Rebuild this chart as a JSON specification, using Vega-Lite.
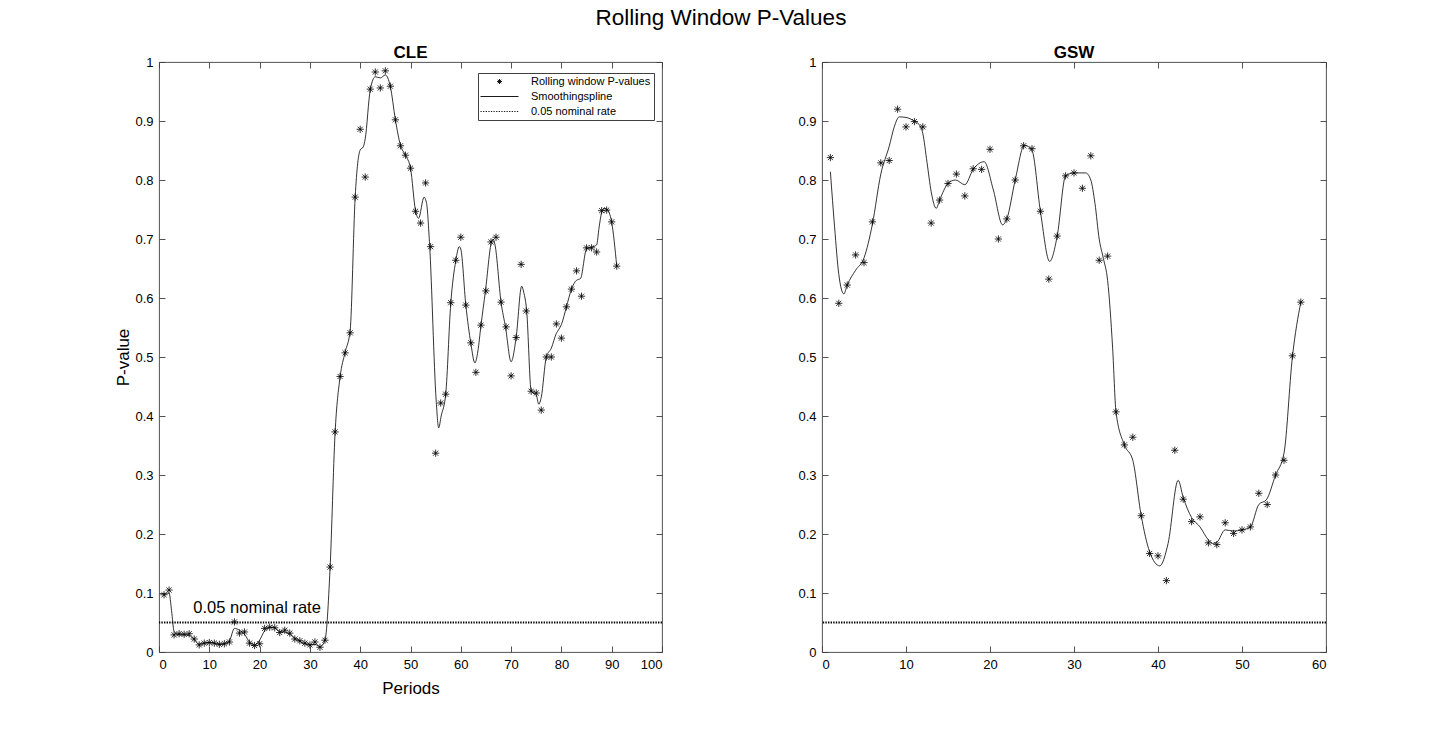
{
  "$schema": "https://vega.github.io/schema/vega-lite/v6.json",
  "padding": {"left": 114, "top": 7, "right": 5, "bottom": 5},
  "title": {"text": "Rolling Window P-Values", "fontSize": 22.5, "fontWeight": "normal", "font": "Liberation Sans", "color": "black", "anchor": "middle", "offset": 14},
  "spacing": 133,
  "config": {
    "font": "Liberation Sans",
    "view": {"stroke": "#404040", "strokeWidth": 0.9},
    "axis": {"grid": false, "domain": false, "ticks": true, "tickSize": -6, "tickColor": "#404040", "tickWidth": 0.9, "labelFontSize": 13, "labelColor": "black", "titleFontSize": 17, "titleFontWeight": "normal", "titleColor": "black", "labelPadding": 12, "minExtent": 0},
    "title": {"fontSize": 17, "fontWeight": "bold", "color": "black", "offset": -6}
  },
  "datasets": {
    "cle_pts": [
      {"x":1,"y":0.097,"series":"Rolling window P-values"},{"x":2,"y":0.105,"series":"Rolling window P-values"},{"x":3,"y":0.029,"series":"Rolling window P-values"},{"x":4,"y":0.031,"series":"Rolling window P-values"},{"x":5,"y":0.030,"series":"Rolling window P-values"},{"x":6,"y":0.031,"series":"Rolling window P-values"},{"x":7,"y":0.022,"series":"Rolling window P-values"},{"x":8,"y":0.012,"series":"Rolling window P-values"},{"x":9,"y":0.015,"series":"Rolling window P-values"},{"x":10,"y":0.016,"series":"Rolling window P-values"},
      {"x":11,"y":0.015,"series":"Rolling window P-values"},{"x":12,"y":0.013,"series":"Rolling window P-values"},{"x":13,"y":0.014,"series":"Rolling window P-values"},{"x":14,"y":0.017,"series":"Rolling window P-values"},{"x":15,"y":0.051,"series":"Rolling window P-values"},{"x":16,"y":0.032,"series":"Rolling window P-values"},{"x":17,"y":0.034,"series":"Rolling window P-values"},{"x":18,"y":0.015,"series":"Rolling window P-values"},{"x":19,"y":0.011,"series":"Rolling window P-values"},{"x":20,"y":0.014,"series":"Rolling window P-values"},
      {"x":21,"y":0.040,"series":"Rolling window P-values"},{"x":22,"y":0.042,"series":"Rolling window P-values"},{"x":23,"y":0.041,"series":"Rolling window P-values"},{"x":24,"y":0.033,"series":"Rolling window P-values"},{"x":25,"y":0.037,"series":"Rolling window P-values"},{"x":26,"y":0.032,"series":"Rolling window P-values"},{"x":27,"y":0.022,"series":"Rolling window P-values"},{"x":28,"y":0.019,"series":"Rolling window P-values"},{"x":29,"y":0.015,"series":"Rolling window P-values"},{"x":30,"y":0.012,"series":"Rolling window P-values"},
      {"x":31,"y":0.017,"series":"Rolling window P-values"},{"x":32,"y":0.008,"series":"Rolling window P-values"},{"x":33,"y":0.020,"series":"Rolling window P-values"},{"x":34,"y":0.144,"series":"Rolling window P-values"},{"x":35,"y":0.373,"series":"Rolling window P-values"},{"x":36,"y":0.467,"series":"Rolling window P-values"},{"x":37,"y":0.507,"series":"Rolling window P-values"},{"x":38,"y":0.541,"series":"Rolling window P-values"},{"x":39,"y":0.771,"series":"Rolling window P-values"},{"x":40,"y":0.886,"series":"Rolling window P-values"},
      {"x":41,"y":0.805,"series":"Rolling window P-values"},{"x":42,"y":0.954,"series":"Rolling window P-values"},{"x":43,"y":0.983,"series":"Rolling window P-values"},{"x":44,"y":0.956,"series":"Rolling window P-values"},{"x":45,"y":0.985,"series":"Rolling window P-values"},{"x":46,"y":0.959,"series":"Rolling window P-values"},{"x":47,"y":0.902,"series":"Rolling window P-values"},{"x":48,"y":0.858,"series":"Rolling window P-values"},{"x":49,"y":0.842,"series":"Rolling window P-values"},{"x":50,"y":0.820,"series":"Rolling window P-values"},
      {"x":51,"y":0.747,"series":"Rolling window P-values"},{"x":52,"y":0.727,"series":"Rolling window P-values"},{"x":53,"y":0.795,"series":"Rolling window P-values"},{"x":54,"y":0.687,"series":"Rolling window P-values"},{"x":55,"y":0.337,"series":"Rolling window P-values"},{"x":56,"y":0.422,"series":"Rolling window P-values"},{"x":57,"y":0.437,"series":"Rolling window P-values"},{"x":58,"y":0.592,"series":"Rolling window P-values"},{"x":59,"y":0.664,"series":"Rolling window P-values"},{"x":60,"y":0.703,"series":"Rolling window P-values"},
      {"x":61,"y":0.588,"series":"Rolling window P-values"},{"x":62,"y":0.524,"series":"Rolling window P-values"},{"x":63,"y":0.474,"series":"Rolling window P-values"},{"x":64,"y":0.554,"series":"Rolling window P-values"},{"x":65,"y":0.612,"series":"Rolling window P-values"},{"x":66,"y":0.695,"series":"Rolling window P-values"},{"x":67,"y":0.703,"series":"Rolling window P-values"},{"x":68,"y":0.593,"series":"Rolling window P-values"},{"x":69,"y":0.551,"series":"Rolling window P-values"},{"x":70,"y":0.468,"series":"Rolling window P-values"},
      {"x":71,"y":0.533,"series":"Rolling window P-values"},{"x":72,"y":0.657,"series":"Rolling window P-values"},{"x":73,"y":0.578,"series":"Rolling window P-values"},{"x":74,"y":0.442,"series":"Rolling window P-values"},{"x":75,"y":0.439,"series":"Rolling window P-values"},{"x":76,"y":0.410,"series":"Rolling window P-values"},{"x":77,"y":0.500,"series":"Rolling window P-values"},{"x":78,"y":0.500,"series":"Rolling window P-values"},{"x":79,"y":0.556,"series":"Rolling window P-values"},{"x":80,"y":0.532,"series":"Rolling window P-values"},
      {"x":81,"y":0.585,"series":"Rolling window P-values"},{"x":82,"y":0.615,"series":"Rolling window P-values"},{"x":83,"y":0.646,"series":"Rolling window P-values"},{"x":84,"y":0.603,"series":"Rolling window P-values"},{"x":85,"y":0.685,"series":"Rolling window P-values"},{"x":86,"y":0.685,"series":"Rolling window P-values"},{"x":87,"y":0.678,"series":"Rolling window P-values"},{"x":88,"y":0.748,"series":"Rolling window P-values"},{"x":89,"y":0.749,"series":"Rolling window P-values"},{"x":90,"y":0.729,"series":"Rolling window P-values"},
      {"x":91,"y":0.654,"series":"Rolling window P-values"}
    ],
    "cle_spline": [
      {"x":1,"y":0.097},{"x":2,"y":0.100},{"x":2.5,"y":0.07},{"x":3,"y":0.035},{"x":4,"y":0.029},{"x":5,"y":0.029},{"x":6,"y":0.028},{"x":7,"y":0.021},{"x":8,"y":0.013},{"x":9,"y":0.015},{"x":10,"y":0.016},
      {"x":11,"y":0.015},{"x":12,"y":0.013},{"x":13,"y":0.014},{"x":14,"y":0.019},{"x":15,"y":0.040},{"x":16,"y":0.037},{"x":17,"y":0.030},{"x":18,"y":0.017},{"x":19,"y":0.012},{"x":20,"y":0.020},
      {"x":21,"y":0.036},{"x":22,"y":0.042},{"x":23,"y":0.041},{"x":24,"y":0.035},{"x":25,"y":0.034},{"x":26,"y":0.030},{"x":27,"y":0.024},{"x":28,"y":0.018},{"x":29,"y":0.014},{"x":30,"y":0.012},
      {"x":31,"y":0.013},{"x":32,"y":0.009},{"x":33,"y":0.020},{"x":34,"y":0.140},{"x":35,"y":0.370},{"x":36,"y":0.466},{"x":37,"y":0.508},{"x":38,"y":0.545},{"x":39,"y":0.771},{"x":40,"y":0.851},
      {"x":40.6,"y":0.856},{"x":41,"y":0.870},{"x":42,"y":0.953},{"x":43,"y":0.975},{"x":44,"y":0.973},{"x":45,"y":0.978},{"x":46,"y":0.958},{"x":47,"y":0.902},{"x":48,"y":0.859},{"x":49,"y":0.842},{"x":50,"y":0.820},
      {"x":51,"y":0.748},{"x":51.6,"y":0.735},{"x":52.7,"y":0.771},{"x":53.2,"y":0.760},{"x":53.8,"y":0.690},{"x":55.1,"y":0.427},{"x":55.6,"y":0.380},{"x":56.1,"y":0.400},{"x":57,"y":0.437},{"x":58,"y":0.590},
      {"x":59,"y":0.663},{"x":59.7,"y":0.687},{"x":60,"y":0.683},{"x":61,"y":0.588},{"x":62,"y":0.523},{"x":62.8,"y":0.490},{"x":63.4,"y":0.510},{"x":64,"y":0.553},{"x":64.9,"y":0.612},{"x":66.1,"y":0.695},
      {"x":66.4,"y":0.700},{"x":66.8,"y":0.690},{"x":68,"y":0.593},{"x":68.9,"y":0.550},{"x":70,"y":0.492},{"x":71,"y":0.533},{"x":72.1,"y":0.620},{"x":72.5,"y":0.610},{"x":73.1,"y":0.578},{"x":74,"y":0.442},
      {"x":75,"y":0.436},{"x":75.5,"y":0.420},{"x":76,"y":0.432},{"x":77,"y":0.500},{"x":78,"y":0.515},{"x":79,"y":0.540},{"x":79.5,"y":0.547},{"x":80,"y":0.555},{"x":81,"y":0.585},{"x":82,"y":0.615},
      {"x":83,"y":0.630},{"x":83.8,"y":0.633},{"x":85,"y":0.683},{"x":86,"y":0.686},{"x":87,"y":0.690},{"x":87.5,"y":0.720},{"x":88,"y":0.745},{"x":88.5,"y":0.752},{"x":89,"y":0.751},{"x":90,"y":0.728},{"x":91,"y":0.654}
    ],
    "gsw_pts": [
      {"x":1,"y":0.838},{"x":2,"y":0.591},{"x":3,"y":0.622},{"x":4,"y":0.673},{"x":5,"y":0.660},{"x":6,"y":0.729},{"x":7,"y":0.829},{"x":8,"y":0.833},{"x":9,"y":0.920},{"x":10,"y":0.890},
      {"x":11,"y":0.899},{"x":12,"y":0.890},{"x":13,"y":0.727},{"x":14,"y":0.766},{"x":15,"y":0.794},{"x":16,"y":0.810},{"x":17,"y":0.773},{"x":18,"y":0.819},{"x":19,"y":0.818},{"x":20,"y":0.852},
      {"x":21,"y":0.700},{"x":22,"y":0.734},{"x":23,"y":0.800},{"x":24,"y":0.858},{"x":25,"y":0.853},{"x":26,"y":0.747},{"x":27,"y":0.632},{"x":28,"y":0.705},{"x":29,"y":0.807},{"x":30,"y":0.812},
      {"x":31,"y":0.786},{"x":32,"y":0.841},{"x":33,"y":0.664},{"x":34,"y":0.671},{"x":35,"y":0.407},{"x":36,"y":0.351},{"x":37,"y":0.364},{"x":38,"y":0.231},{"x":39,"y":0.167},{"x":40,"y":0.163},
      {"x":41,"y":0.121},{"x":42,"y":0.342},{"x":43,"y":0.259},{"x":44,"y":0.221},{"x":45,"y":0.229},{"x":46,"y":0.185},{"x":47,"y":0.182},{"x":48,"y":0.219},{"x":49,"y":0.201},{"x":50,"y":0.207},
      {"x":51,"y":0.212},{"x":52,"y":0.269},{"x":53,"y":0.250},{"x":54,"y":0.300},{"x":55,"y":0.325},{"x":56,"y":0.502},{"x":57,"y":0.593}
    ],
    "gsw_spline": [
      {"x":1,"y":0.814},{"x":1.5,"y":0.72},{"x":2,"y":0.64},{"x":2.6,"y":0.607},{"x":3,"y":0.622},{"x":4,"y":0.647},{"x":5,"y":0.668},{"x":6,"y":0.725},{"x":7,"y":0.810},{"x":8,"y":0.857},
      {"x":8.6,"y":0.890},{"x":9.2,"y":0.907},{"x":10,"y":0.906},{"x":11,"y":0.900},{"x":11.5,"y":0.895},{"x":12,"y":0.879},{"x":12.5,"y":0.830},{"x":13,"y":0.780},{"x":13.6,"y":0.752},{"x":14,"y":0.766},
      {"x":15,"y":0.794},{"x":15.9,"y":0.800},{"x":17,"y":0.792},{"x":18,"y":0.818},{"x":19.3,"y":0.831},{"x":20.4,"y":0.783},{"x":21.5,"y":0.724},{"x":22,"y":0.734},{"x":23,"y":0.800},{"x":24.1,"y":0.859},
      {"x":25,"y":0.850},{"x":26,"y":0.747},{"x":27.1,"y":0.662},{"x":28,"y":0.705},{"x":29,"y":0.807},{"x":30,"y":0.812},{"x":31.4,"y":0.812},{"x":32,"y":0.800},{"x":32.5,"y":0.760},{"x":33,"y":0.700},
      {"x":33.5,"y":0.667},{"x":34,"y":0.630},{"x":34.6,"y":0.515},{"x":35,"y":0.407},{"x":36,"y":0.351},{"x":37,"y":0.325},{"x":38,"y":0.231},{"x":39,"y":0.170},{"x":40.2,"y":0.146},{"x":41.2,"y":0.184},
      {"x":42.4,"y":0.291},{"x":43,"y":0.262},{"x":44,"y":0.228},{"x":45,"y":0.212},{"x":46,"y":0.190},{"x":46.5,"y":0.184},{"x":47,"y":0.186},{"x":48,"y":0.207},{"x":49,"y":0.205},{"x":50,"y":0.207},
      {"x":51,"y":0.212},{"x":52,"y":0.250},{"x":52.9,"y":0.258},{"x":54,"y":0.300},{"x":55,"y":0.337},{"x":56,"y":0.500},{"x":57,"y":0.593}
    ]
  },
  "hconcat": [
    {
      "width": 503,
      "height": 590,
      "title": {"text": "CLE"},
      "layer": [
        {
          "data": {"name": "cle_spline"},
          "mark": {"type": "line", "interpolate": "monotone", "color": "black", "strokeWidth": 0.8},
          "encoding": {
            "x": {"field": "x", "type": "quantitative", "scale": {"domain": [0, 100], "nice": false, "zero": false},
                  "axis": {"orient": "bottom", "values": [0,10,20,30,40,50,60,70,80,90,100], "format": "~r", "title": "Periods", "titlePadding": 9}},
            "y": {"field": "y", "type": "quantitative", "scale": {"domain": [0, 1], "nice": false},
                  "axis": {"orient": "left", "values": [0,0.1,0.2,0.3,0.4,0.5,0.6,0.7,0.8,0.9,1], "format": "~r", "title": "P-value", "titlePadding": 2}}
          }
        },
        {
          "data": {"name": "cle_pts"},
          "mark": {"type": "point", "filled": false, "color": "black", "strokeWidth": 0.8, "size": 210, "opacity": 1},
          "encoding": {
            "x": {"field": "x", "type": "quantitative", "axis": {"orient": "top", "values": [0,10,20,30,40,50,60,70,80,90,100], "labels": false, "title": null, "labelPadding": 0}},
            "y": {"field": "y", "type": "quantitative", "axis": {"orient": "right", "values": [0,0.1,0.2,0.3,0.4,0.5,0.6,0.7,0.8,0.9,1], "labels": false, "title": null, "labelPadding": 0}},
            "shape": {
              "field": "series", "type": "nominal",
              "scale": {
                "domain": ["Rolling window P-values", "Smoothingspline", "0.05 nominal rate"],
                "range": [
                  "M0,-0.5V0.5M-0.5,0H0.5M-0.354,-0.354L0.354,0.354M-0.354,0.354L0.354,-0.354",
                  "M-3.8,0H3.8",
                  "M-3.8,0H-3.54M-3.28,0H-3.02M-2.76,0H-2.5M-2.24,0H-1.98M-1.72,0H-1.46M-1.2,0H-0.94M-0.68,0H-0.42M-0.16,0H0.1M0.36,0H0.62M0.88,0H1.14M1.4,0H1.66M1.92,0H2.18M2.44,0H2.7M2.96,0H3.22M3.48,0H3.74"
                ]
              },
              "legend": {"title": null, "orient": "none", "legendX": 319, "legendY": 11, "padding": 3, "strokeColor": "#404040", "fillColor": "white", "symbolSize": 100, "symbolOffset": 13, "symbolStrokeWidth": 0.9, "symbolStrokeColor": "black", "symbolFillColor": "transparent", "labelFontSize": 11, "labelColor": "black", "labelOffset": 26, "rowPadding": 3}
            }
          }
        },
        {
          "data": {"values": [{}]},
          "mark": {"type": "rule", "color": "black", "strokeWidth": 1.8, "strokeDash": [1.4, 1.2]},
          "encoding": {"y": {"datum": 0.05, "type": "quantitative", "axis": null}}
        },
        {
          "data": {"values": [{}]},
          "mark": {"type": "text", "fontSize": 16.5, "color": "black", "align": "center", "baseline": "middle"},
          "encoding": {
            "x": {"datum": 19.5, "type": "quantitative", "axis": null},
            "y": {"datum": 0.074, "type": "quantitative", "axis": null},
            "text": {"value": "0.05 nominal rate"}
          }
        }
      ],
      "resolve": {"axis": {"x": "independent", "y": "independent"}}
    },
    {
      "width": 504,
      "height": 590,
      "title": {"text": "GSW"},
      "layer": [
        {
          "data": {"name": "gsw_spline"},
          "mark": {"type": "line", "interpolate": "monotone", "color": "black", "strokeWidth": 0.8},
          "encoding": {
            "x": {"field": "x", "type": "quantitative", "scale": {"domain": [0, 60], "nice": false, "zero": false},
                  "axis": {"orient": "bottom", "values": [0,10,20,30,40,50,60], "format": "~r", "title": null}},
            "y": {"field": "y", "type": "quantitative", "scale": {"domain": [0, 1], "nice": false},
                  "axis": {"orient": "left", "values": [0,0.1,0.2,0.3,0.4,0.5,0.6,0.7,0.8,0.9,1], "format": "~r", "title": null}}
          }
        },
        {
          "data": {"name": "gsw_pts"},
          "mark": {"type": "point", "filled": false, "color": "black", "strokeWidth": 0.8, "size": 210, "opacity": 1,
                   "shape": "M0,-0.5V0.5M-0.5,0H0.5M-0.354,-0.354L0.354,0.354M-0.354,0.354L0.354,-0.354"},
          "encoding": {
            "x": {"field": "x", "type": "quantitative", "axis": {"orient": "top", "values": [0,10,20,30,40,50,60], "labels": false, "title": null, "labelPadding": 0}},
            "y": {"field": "y", "type": "quantitative", "axis": {"orient": "right", "values": [0,0.1,0.2,0.3,0.4,0.5,0.6,0.7,0.8,0.9,1], "labels": false, "title": null, "labelPadding": 0}}
          }
        },
        {
          "data": {"values": [{}]},
          "mark": {"type": "rule", "color": "black", "strokeWidth": 1.8, "strokeDash": [1.4, 1.2]},
          "encoding": {"y": {"datum": 0.05, "type": "quantitative", "axis": null}}
        }
      ],
      "resolve": {"axis": {"x": "independent", "y": "independent"}}
    }
  ]
}
